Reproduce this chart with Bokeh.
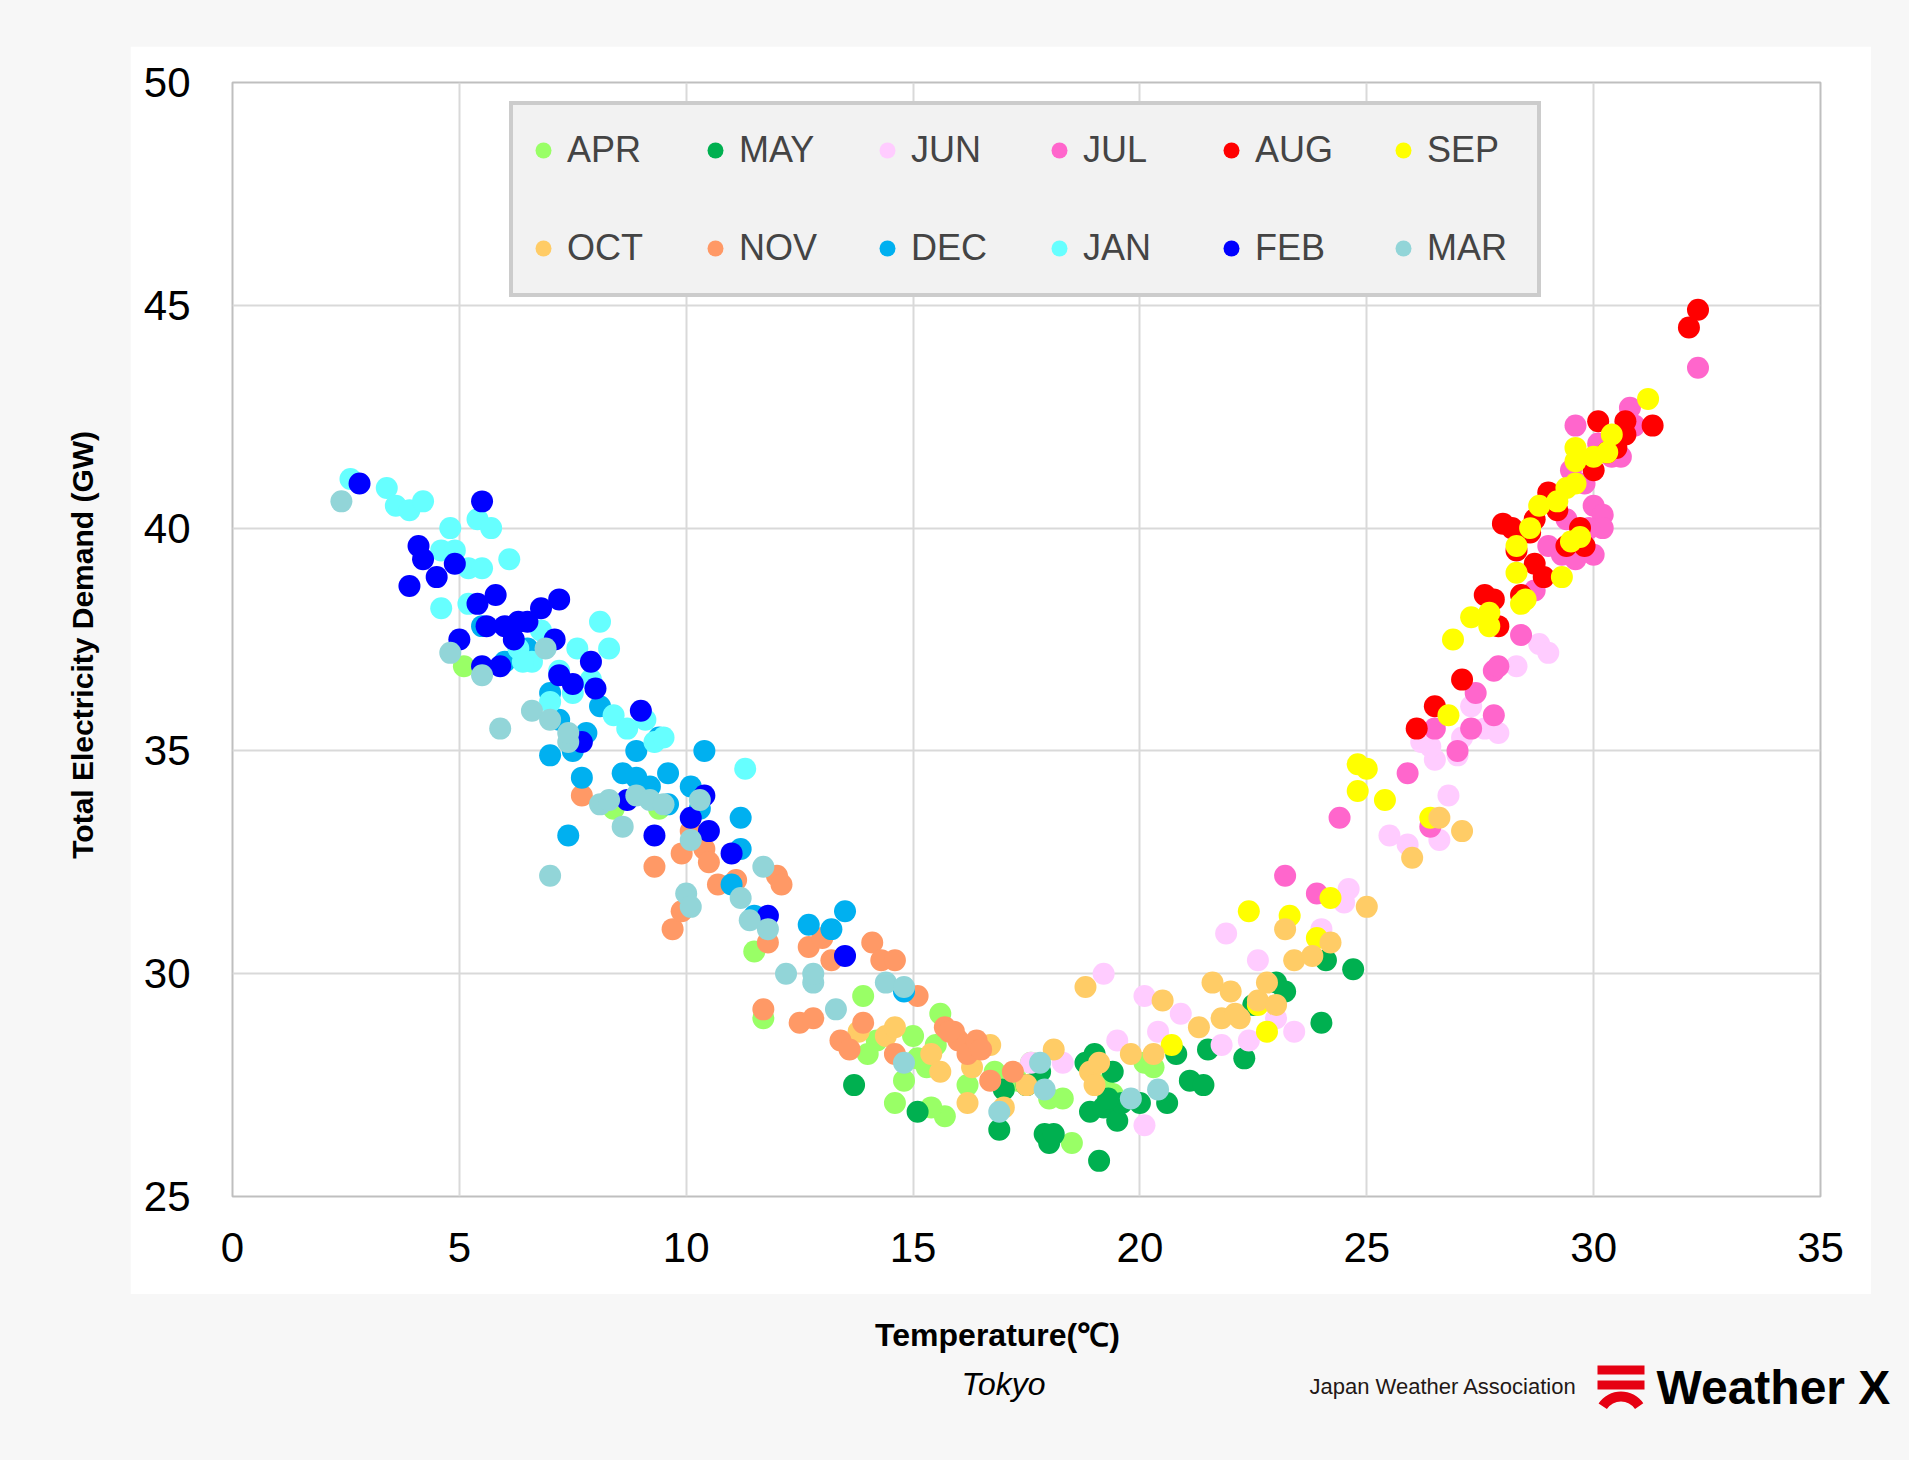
import math
from bokeh.plotting import figure
from bokeh.models import Legend, LegendItem, FixedTicker, Range1d
from bokeh.layouts import column, row
from bokeh.core.properties import value
from bokeh.embed import file_html
from bokeh.resources import INLINE

months = ["APR","MAY","JUN","JUL","AUG","SEP","OCT","NOV","DEC","JAN","FEB","MAR"]
colors = ["#99ff66","#00b050","#ffccff","#ff66cc","#ff0000","#ffff00","#ffcc66","#ff9966","#00b0f0","#66ffff","#0000ff","#92d5d8"]

APR = [(5.1,36.9),(8.4,33.7),(9.4,33.7),(11.5,30.5),(11.7,29.0),(13.9,29.5),(14.2,28.5),(14.6,27.1),(14.8,27.6),(15.0,28.6),(15.1,28.1),(15.3,27.9),(15.5,28.4),(15.6,29.1),(15.7,26.8),(16.2,27.5),(16.8,27.8),(17.3,27.6),(17.6,28.0),(18.0,27.2),(18.3,27.2),(18.5,26.2),(19.2,27.5),(19.4,27.3),(20.1,28.0),(20.3,27.9),(14.0,28.2),(15.4,27.0)]
MAY = [(13.7,27.5),(15.1,26.9),(16.9,26.5),(17.0,27.4),(17.5,27.5),(17.8,27.8),(17.9,26.4),(18.0,26.2),(18.1,26.4),(18.8,28.0),(18.9,26.9),(19.0,28.2),(19.1,25.8),(19.2,27.0),(19.4,27.8),(19.5,26.7),(19.6,27.1),(20.0,27.1),(20.6,27.1),(20.8,28.2),(21.1,27.6),(21.4,27.5),(21.5,28.3),(22.3,28.1),(22.5,29.3),(23.0,29.8),(23.2,29.6),(24.0,28.9),(24.1,30.3),(24.7,30.1),(19.3,27.2)]
JUN = [(17.6,28.0),(18.3,28.0),(19.2,30.0),(19.5,28.5),(20.1,29.5),(20.1,26.6),(20.4,28.7),(20.9,29.1),(21.8,28.4),(21.9,30.9),(22.4,28.5),(22.6,30.3),(23.0,29.0),(23.4,28.7),(24.0,31.0),(24.6,31.9),(25.5,33.1),(25.9,32.9),(26.2,35.2),(26.5,34.8),(26.6,33.0),(26.8,34.0),(27.0,34.9),(27.1,35.3),(27.3,36.0),(27.6,35.5),(27.9,35.4),(28.3,36.9),(28.8,37.4),(29.0,37.2),(24.5,31.6),(26.4,35.1)]
JUL = [(23.2,32.2),(23.9,31.8),(24.4,33.5),(25.9,34.5),(26.4,33.3),(26.5,35.5),(27.0,35.0),(27.3,35.5),(27.4,36.3),(27.8,35.8),(27.8,36.8),(27.9,36.9),(28.4,37.6),(28.7,38.6),(29.0,39.6),(29.3,39.4),(29.4,40.2),(29.5,41.3),(29.6,42.3),(29.6,39.3),(29.8,41.0),(30.0,40.5),(30.0,39.4),(30.1,41.9),(30.2,40.3),(30.2,40.0),(30.4,41.6),(30.6,41.6),(30.8,42.7),(30.9,42.3),(32.3,43.6),(29.9,40.0)]
AUG = [(26.1,35.5),(26.5,36.0),(27.1,36.6),(27.6,38.5),(27.8,38.4),(27.9,37.8),(28.0,40.1),(28.2,40.0),(28.3,39.5),(28.4,38.5),(28.6,39.9),(28.7,40.2),(28.7,39.2),(28.9,38.9),(29.0,40.8),(29.2,40.4),(29.4,39.6),(29.7,40.0),(29.8,39.6),(30.0,41.3),(30.1,42.4),(30.3,41.7),(30.5,41.8),(30.7,42.1),(30.7,42.4),(31.3,42.3),(32.1,44.5),(32.3,44.9)]
SEP = [(22.4,31.4),(22.6,29.3),(22.8,28.7),(23.3,31.3),(23.9,30.8),(24.2,31.7),(24.8,34.7),(25.0,34.6),(24.8,34.1),(25.4,33.9),(26.4,33.5),(26.8,35.8),(26.9,37.5),(27.3,38.0),(27.7,37.8),(27.7,38.1),(28.3,39.0),(28.3,39.6),(28.4,38.3),(28.5,38.4),(28.6,40.0),(28.8,40.5),(29.2,40.6),(29.3,38.9),(29.4,40.9),(29.5,39.7),(29.6,41.5),(29.6,41.8),(29.7,39.8),(30.0,41.6),(30.3,41.7),(30.4,42.1),(31.2,42.9),(20.7,28.4),(29.6,41.0)]
OCT = [(13.8,28.7),(14.4,28.6),(14.6,28.8),(15.4,28.2),(15.6,27.8),(16.2,27.1),(16.3,27.9),(16.7,28.4),(17.0,27.0),(17.5,27.5),(18.1,28.3),(18.8,29.7),(18.9,27.8),(19.0,27.5),(19.1,28.0),(19.8,28.2),(20.3,28.2),(20.5,29.4),(21.3,28.8),(21.6,29.8),(21.8,29.0),(22.0,29.6),(22.2,29.0),(22.6,29.4),(22.8,29.8),(23.0,29.3),(23.2,31.0),(23.4,30.3),(23.8,30.4),(24.2,30.7),(25.0,31.5),(26.0,32.6),(26.6,33.5),(27.1,33.2),(22.1,29.1)]
NOV = [(7.7,34.0),(9.3,32.4),(9.7,31.0),(9.9,31.4),(9.9,32.7),(10.1,33.2),(10.4,32.8),(10.5,32.5),(10.7,32.0),(11.1,32.1),(11.7,29.2),(11.8,30.7),(12.0,32.2),(12.1,32.0),(12.5,28.9),(12.7,30.6),(12.8,29.0),(13.0,30.8),(13.2,30.3),(13.4,28.5),(13.6,28.3),(13.9,28.9),(14.1,30.7),(14.3,30.3),(14.6,30.3),(14.6,28.2),(15.1,29.5),(15.7,28.8),(15.9,28.7),(16.0,28.5),(16.2,28.2),(16.4,28.5),(16.5,28.3),(16.7,27.6),(17.2,27.8),(15.8,28.7)]
DEC = [(5.5,37.8),(6.0,37.0),(6.5,37.3),(7.0,34.9),(7.0,36.3),(7.2,35.7),(7.4,33.1),(7.5,35.0),(7.7,34.4),(7.8,35.4),(8.1,36.0),(8.6,34.5),(8.9,35.0),(8.9,34.4),(9.2,34.2),(9.6,34.5),(9.6,33.8),(10.1,34.2),(10.4,35.0),(10.3,33.7),(11.0,32.0),(11.2,32.8),(11.2,33.5),(11.5,31.3),(12.7,31.1),(13.2,31.0),(13.5,31.4),(14.8,29.6),(9.4,35.3)]
JAN = [(2.6,41.1),(3.4,40.9),(3.6,40.5),(3.9,40.4),(4.2,40.6),(4.6,39.5),(4.8,40.0),(4.9,39.5),(5.2,39.1),(5.4,40.2),(5.5,39.1),(5.7,40.0),(4.6,38.2),(5.2,38.3),(6.1,39.3),(6.3,37.3),(6.6,37.0),(6.8,37.7),(7.0,36.1),(7.2,36.8),(7.5,36.3),(7.6,37.3),(7.9,36.6),(8.1,37.9),(8.3,37.3),(8.4,35.8),(8.7,35.5),(9.1,35.7),(9.3,35.2),(9.5,35.3),(11.3,34.6),(6.4,37.0)]
FEB = [(2.8,41.0),(3.9,38.7),(4.1,39.6),(4.2,39.3),(4.5,38.9),(4.9,39.2),(5.0,37.5),(5.4,38.3),(5.5,36.9),(5.5,40.6),(5.6,37.8),(5.8,38.5),(5.9,36.9),(6.0,37.8),(6.2,37.5),(6.3,37.9),(6.5,37.9),(6.8,38.2),(7.1,37.5),(7.2,36.7),(7.2,38.4),(7.5,36.5),(7.7,35.2),(7.9,37.0),(8.0,36.4),(9.0,35.9),(9.3,33.1),(10.1,33.5),(10.5,33.2),(11.0,32.7),(11.8,31.3),(13.5,30.4),(8.7,33.9),(10.4,34.0)]
MAR = [(2.4,40.6),(4.8,37.2),(5.5,36.7),(5.9,35.5),(6.6,35.9),(7.0,32.2),(7.0,35.7),(7.4,35.2),(7.4,35.4),(8.1,33.8),(8.3,33.9),(8.6,33.3),(8.9,34.0),(9.2,33.9),(9.5,33.8),(10.0,31.8),(10.1,31.5),(10.1,33.0),(10.3,33.9),(11.2,31.7),(11.4,31.2),(11.7,32.4),(11.8,31.0),(12.2,30.0),(12.8,29.8),(12.8,30.0),(13.3,29.2),(14.4,29.8),(14.8,29.7),(14.8,28.0),(16.9,26.9),(17.8,28.0),(17.9,27.4),(19.8,27.2),(20.4,27.4),(6.9,37.3)]
data = [APR, MAY, JUN, JUL, AUG, SEP, OCT, NOV, DEC, JAN, FEB, MAR]
x_ticks = [0, 5, 10, 15, 20, 25, 30, 35]
y_ticks = [25, 30, 35, 40, 45, 50]

GREY = "#f7f7f7"
FONT = value("Liberation Sans")

def strip(w, h):
    f = figure(width=w, height=h, output_backend="svg", toolbar_location=None,
               x_range=Range1d(0, w), y_range=Range1d(h, 0),
               min_border=0, min_border_left=0, min_border_right=0, min_border_top=0, min_border_bottom=0)
    f.axis.visible = False
    f.grid.visible = False
    f.outline_line_color = None
    f.background_fill_color = GREY
    f.border_fill_color = GREY
    return f

# left strip with y-axis title
yl = strip(130, 1248)
yl.margin = (46, 0, 0, 0)
yl.text(x=[82], y=[630], text=["Total Electricity Demand (GW)"], angle=math.pi / 2,
        text_font=FONT, text_font_size="30px", text_font_style="bold",
        text_align="center", text_baseline="middle", text_color="black")

# main white panel figure
p = figure(width=1741, height=1248, output_backend="svg", toolbar_location=None,
           x_range=Range1d(0, 35), y_range=Range1d(25, 50),
           min_border_left=102, min_border_right=51, min_border_top=36, min_border_bottom=98)
p.margin = (46, 38, 0, 0)
p.background_fill_color = "white"
p.border_fill_color = "white"
p.outline_line_color = "#bfbfbf"
p.outline_line_width = 2

for ax, t in ((p.xaxis, x_ticks), (p.yaxis, y_ticks)):
    ax.ticker = FixedTicker(ticks=t)
    ax.axis_line_color = None
    ax.major_tick_line_color = None
    ax.minor_tick_line_color = None
    ax.major_label_text_font = "Liberation Sans"
    ax.major_label_text_font_size = "42px"
    ax.major_label_text_color = "black"
p.xaxis.major_label_standoff = 30
p.yaxis.major_label_standoff = 36
p.grid.grid_line_color = "#d9d9d9"
p.grid.grid_line_width = 2

rends = {}
for m, c, d in zip(months, colors, data):
    rends[m] = p.scatter([a for a, b in d], [b for a, b in d], size=22, fill_color=c, line_color=None)

order = []
for i in range(6):
    order += [months[i], months[i + 6]]
items = [LegendItem(label=m, renderers=[rends[m]]) for m in order]

lg = Legend(items=items, ncols=6, location=(277, 1114 - 42 - 173))
lg.label_text_font = "Liberation Sans"
lg.label_text_font_size = "36px"
lg.label_height = 70
lg.label_width = 100
lg.glyph_width = 40
lg.glyph_height = 40
lg.label_standoff = 4
lg.spacing = 28
lg.padding = 10
lg.margin = 0
lg.border_line_color = "#a6a6a6"
lg.border_line_width = 4
lg.background_fill_color = "#f2f2f2"
lg.background_fill_alpha = 1
p.add_layout(lg, "center")

# bottom strip with captions and logo
q = strip(1909, 166)
q.text(x=[997], y=[40], text=["Temperature(℃)"], text_font=FONT, text_font_size="32px", text_font_style="bold",
       text_align="center", text_baseline="middle", text_color="black")
q.text(x=[1003], y=[89], text=["Tokyo"], text_font=FONT, text_font_size="32px", text_font_style="italic",
       text_align="center", text_baseline="middle", text_color="black")
q.text(x=[1309], y=[92], text=["Japan Weather Association"], text_font=FONT, text_font_size="22px",
       text_align="left", text_baseline="middle", text_color="#231815")
q.text(x=[1656], y=[93], text=["Weather X"], text_font=FONT, text_font_size="48px", text_font_style="bold",
       text_align="left", text_baseline="middle", text_color="black")
q.quad(left=[1597, 1597], right=[1644, 1644], top=[71, 86], bottom=[80, 95], fill_color="#e60012", line_color=None)
q.annular_wedge(x=[1620.5], y=[124], inner_radius=17, outer_radius=27, start_angle=0.6, end_angle=2.55,
                inner_radius_units="screen", outer_radius_units="screen",
                fill_color="#e60012", line_color=None)

layout = column(row(yl, p, spacing=0), q, styles={"background-color": GREY}, spacing=0)
open("out.html", "w").write(file_html(layout, INLINE))
